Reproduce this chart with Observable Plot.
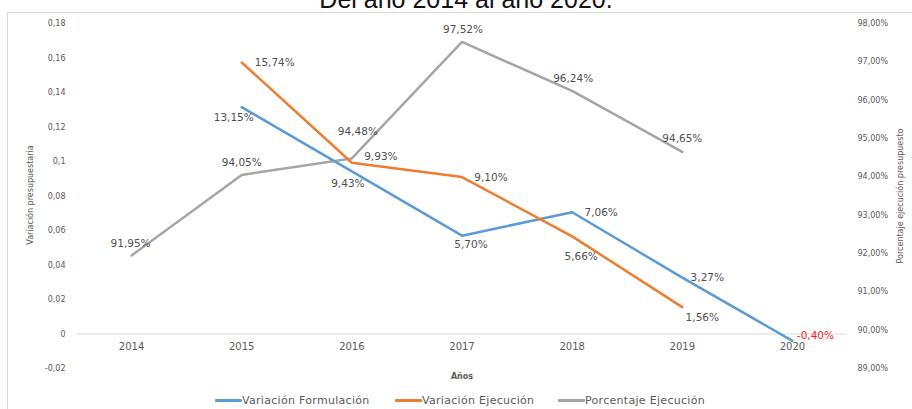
<!DOCTYPE html>
<html>
<head>
<meta charset="utf-8">
<script src="https://cdn.jsdelivr.net/npm/d3@7"></script>
<script src="https://cdn.jsdelivr.net/npm/@observablehq/plot@0.6"></script>
<style>
  html, body { margin: 0; padding: 0; background: #fff; }
  #wrap { position: relative; width: 912px; height: 409px; overflow: hidden; font-family: "DejaVu Sans", sans-serif; }
  #wrap svg { position: absolute; left: 0; top: 0; }
  .abs { position: absolute; white-space: nowrap; }
  .rot { transform: translate(-50%, -50%) rotate(-90deg); font-size: 8px; color: #595959; }
  .leg { position: absolute; top: 393px; height: 14px; display: flex; align-items: center; font-size: 11px; color: #595959; letter-spacing: 0.3px; }
  .sw { width: 27px; height: 3px; border-radius: 1px; }
</style>
</head>
<body>
<div id="wrap">
  <div class="abs" style="left:7px;top:12px;width:1000px;height:500px;border:1px solid #d9d9d9;"></div>
  <div id="chart"></div>
  <div class="abs" style="left:20px;width:892px;top:-13px;line-height:25px;text-align:center;font-family:'Liberation Sans',Arial,sans-serif;font-size:25px;color:#111;">Del año 2014 al año 2020.</div>
  <div class="abs rot" style="left:30px;top:195px;">Variación presupuestaria</div>
  <div class="abs rot" style="left:900px;top:196px;">Porcentaje ejecución presupuesto</div>
  <div class="abs" style="left:462px;top:376px;transform:translate(-50%,-50%);font-size:8px;font-weight:bold;color:#595959;">Años</div>
  <div class="leg" style="left:215px;"><div class="sw" style="background:#5B9BD5"></div><span>Variación Formulación</span></div>
  <div class="leg" style="left:395px;"><div class="sw" style="background:#ED7D31"></div><span>Variación Ejecución</span></div>
  <div class="leg" style="left:558px;"><div class="sw" style="background:#A5A5A5"></div><span>Porcentaje Ejecución</span></div>
</div>
<script>
// ---- data ----
const years = [2014, 2015, 2016, 2017, 2018, 2019, 2020];
const formulacion = [null, 0.1315, 0.0943, 0.0570, 0.0706, 0.0327, -0.0040];
const ejecucion = [null, 0.1574, 0.0993, 0.0910, 0.0566, 0.0156, null];
const porcentaje = [91.95, 94.05, 94.48, 97.52, 96.24, 94.65, null];
const leftTicks = [-0.02, 0, 0.02, 0.04, 0.06, 0.08, 0.1, 0.12, 0.14, 0.16, 0.18];
const rightTicks = [89, 90, 91, 92, 93, 94, 95, 96, 97, 98];

// label offsets (styling)
const offForm = [null, [-8, 10], [-4, 12], [9, 9], [29, 0], [25, 0], [23, -5]];
const offEjec = [null, [33, 0], [29, -6], [29, 1], [9, 20], [20, 11], null];
const offPorc = [[-1, -12], [0, -12], [6, -27], [1, -12], [1, -12], [0, -13], null];

// secondary axis mapping (89%..98% onto -0.02..0.18)
const toLeft = p => (p - 89) / 9 * 0.2 - 0.02;
const fromLeft = v => (v + 0.02) / 0.2 * 9 + 89;

const fmtPct = v => (v * 100).toFixed(2).replace(".", ",") + "%";
const fmtPctRaw = v => v.toFixed(2).replace(".", ",") + "%";
const fmtLeft = d => String(+d.toFixed(2)).replace(".", ",");
const fmtRight = d => fromLeft(d).toFixed(2).replace(".", ",") + "%";

function series(vals, conv, fmt) {
  return years.map((y, i) => ({year: y, v: vals[i] == null ? null : conv(vals[i]), raw: vals[i], label: vals[i] == null ? "" : fmt(vals[i]), i}))
    .filter(d => d.v != null);
}
const sForm = series(formulacion, v => v, fmtPct);
const sEjec = series(ejecucion, v => v, fmtPct);
const sPorc = series(porcentaje, toLeft, fmtPctRaw);

function labels(s, offs, colorFn) {
  return s.map(d => Plot.text([d], {
    x: "year", y: "v", text: "label",
    dx: offs[d.i][0], dy: offs[d.i][1],
    fill: colorFn(d.raw), fontSize: 10.5, fontFamily: "DejaVu Sans"
  }));
}

const chart = Plot.plot({
  width: 912,
  height: 409,
  marginLeft: 76,
  marginRight: 65,
  marginTop: 23,
  marginBottom: 41,
  style: {background: "transparent", fontFamily: "DejaVu Sans", overflow: "visible"},
  x: {domain: [2013.5, 2020.5], axis: null},
  y: {domain: [-0.02, 0.18]},
  marks: [
    Plot.ruleY([0], {stroke: "#d9d9d9", strokeWidth: 1.2}),
    Plot.axisY(leftTicks, {anchor: "left", tickSize: 0, tickPadding: 11, tickFormat: fmtLeft, fontSize: 8, fill: "#595959", label: null}),
    Plot.axisY(rightTicks.map(toLeft), {anchor: "right", tickSize: 0, tickPadding: 10, tickFormat: fmtRight, fontSize: 8, fill: "#595959", label: null}),
    Plot.text(years, {x: d => d, y: () => 0, dy: 13, text: d => String(d), fontSize: 10, fill: "#595959"}),
    Plot.line(sPorc, {x: "year", y: "v", stroke: "#A5A5A5", strokeWidth: 2.5}),
    Plot.line(sForm, {x: "year", y: "v", stroke: "#5B9BD5", strokeWidth: 2.5}),
    Plot.line(sEjec, {x: "year", y: "v", stroke: "#ED7D31", strokeWidth: 2.5}),
    ...labels(sForm, offForm, v => v < 0 ? "#ff1a1a" : "#505050"),
    ...labels(sEjec, offEjec, () => "#505050"),
    ...labels(sPorc, offPorc, () => "#505050")
  ]
});
document.getElementById("chart").appendChild(chart);
</script>
</body>
</html>
